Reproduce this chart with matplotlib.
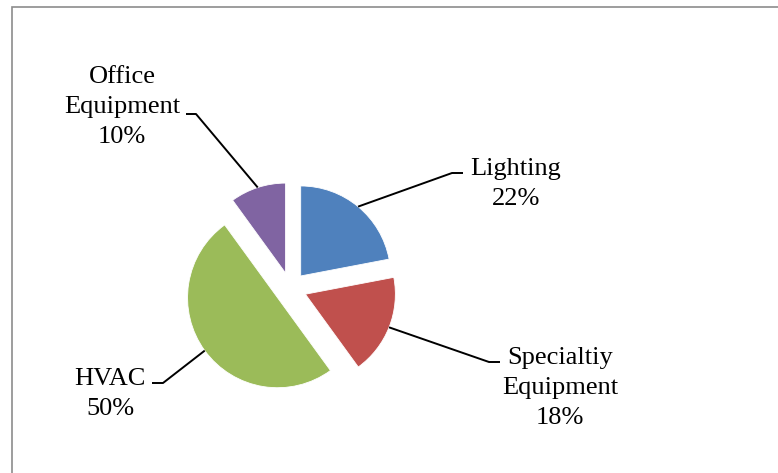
import numpy as np
import matplotlib.pyplot as plt
from matplotlib.patches import Rectangle

labels = ["Lighting", "Specialtiy\nEquipment", "HVAC", "Office\nEquipment"]
shares = [22, 18, 50, 10]
colors = ["#4F81BD", "#C0504D", "#9BBB59", "#8064A2"]

# label block centres and the elbow of each leader line (pixel units, y up)
label_pos = [(516, 289), (560, 85), (110, 79), (122, 366)]
elbows = [((463, 300), (452, 300)),
          ((500, 111), (489, 111)),
          ((152, 90), (163, 90)),
          ((186, 359), (196, 359))]

W, H = 778, 473
CENTER = (290.5, H - 288.3)
RADIUS = 90
EXPLODE = 16  # pie() offsets wedges in data units, not fractions of the radius

fig = plt.figure(figsize=(W / 100, H / 100), dpi=100)
ax = fig.add_axes([0, 0, 1, 1])

wedges, _ = ax.pie(shares, colors=colors, startangle=90, counterclock=False,
                   center=CENTER, radius=RADIUS,
                   explode=[EXPLODE] * len(shares),
                   wedgeprops=dict(edgecolor="white", linewidth=0.6))
ax.set_xlim(0, W)
ax.set_ylim(0, H)
ax.set_aspect("equal")
ax.axis("off")

for w, lab, share, pos, (p0, p1) in zip(wedges, labels, shares, label_pos, elbows):
    mid = np.deg2rad((w.theta1 + w.theta2) / 2)
    cx, cy = w.center
    edge = (cx + RADIUS * np.cos(mid), cy + RADIUS * np.sin(mid))
    ax.plot([p0[0], p1[0], edge[0]], [p0[1], p1[1], edge[1]],
            color="black", lw=1.4, solid_capstyle="butt", zorder=1)
    ax.text(pos[0], pos[1], f"{lab}\n{share}%", ha="center", va="center",
            multialignment="center", fontsize=19, family="Liberation Serif",
            linespacing=1.46)

# chart border
fig.patches.append(Rectangle((11.5, -5), W, H - 6.5 + 5, transform=None,
                             fill=False, edgecolor="#8c8c8c", lw=1.2))

fig.savefig("out.png", dpi=100)
